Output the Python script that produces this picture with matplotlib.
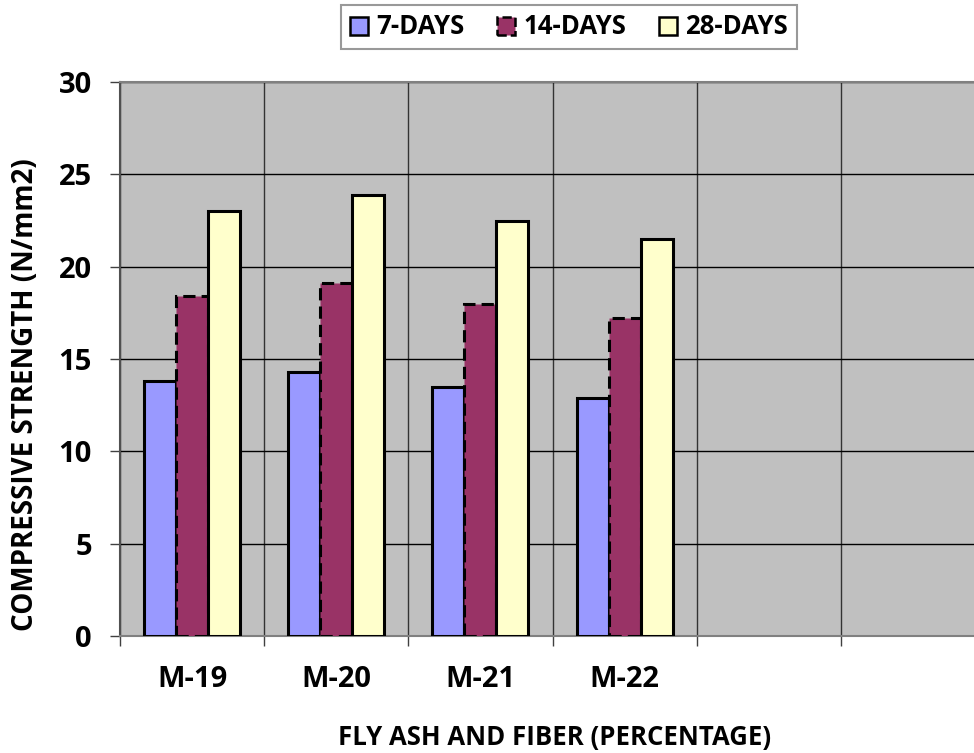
#!/usr/bin/env python3
"""Compressive strength bar chart (7/14/28 days) for mixes M-19..M-22."""

import matplotlib
matplotlib.use("Agg")
import matplotlib.pyplot as plt
import numpy as np
from matplotlib.patches import Patch

MIXES = ["M-19", "M-20", "M-21", "M-22"]
N_SLOTS = 6  # category axis has empty slots after the data
DAYS_7 = [13.8, 14.3, 13.5, 12.9]
DAYS_14 = [18.4, 19.1, 18.0, 17.2]
DAYS_28 = [23.0, 23.9, 22.5, 21.5]
SERIES_LABELS = ["7-DAYS", "14-DAYS", "28-DAYS"]
Y_TICKS = [0, 5, 10, 15, 20, 25, 30]

C_7 = "#9999FF"
C_14 = "#993366"
C_28 = "#FFFFCC"
C_BG = "#C0C0C0"

FONT = ["Open Sans", "DejaVu Sans"]


def main() -> None:
    plt.rcParams["font.family"] = FONT
    plt.rcParams["font.weight"] = "bold"
    plt.rcParams["axes.labelweight"] = "bold"

    fig = plt.figure(figsize=(9.74, 7.53), dpi=100)
    ax = fig.add_axes([120 / 974, 1 - 636 / 753, 865 / 974, (636 - 82) / 753])
    ax.set_facecolor(C_BG)

    x = np.arange(len(MIXES)) + 0.5
    w = 32 / 144.2
    ax.bar(x - w, DAYS_7, w, color=C_7, edgecolor="black", linewidth=2.2, zorder=3)
    ax.bar(x, DAYS_14, w, color=C_14, edgecolor="black", linewidth=2.2,
           linestyle=(0, (4, 2)), zorder=3)
    ax.bar(x + w, DAYS_28, w, color=C_28, edgecolor="black", linewidth=2.2, zorder=3)

    ax.set_xlim(0, N_SLOTS)
    ax.set_ylim(0, 30)

    # gridlines: horizontal at value ticks, vertical at category boundaries
    ax.set_yticks(Y_TICKS)
    ax.set_yticklabels([str(v) for v in Y_TICKS], fontweight="bold")
    ax.set_xticks(np.arange(N_SLOTS + 1))
    ax.set_xticklabels([])
    ax.set_xticks(x, minor=True)
    ax.set_xticklabels(MIXES, minor=True, fontweight="bold")
    ax.tick_params(axis="x", which="minor", length=0, pad=21, labelsize=21)
    ax.tick_params(axis="x", which="major", length=7.2, width=1, color="#404040",
                   direction="out")
    ax.tick_params(axis="y", length=7.2, width=1, color="#404040", direction="out",
                   labelsize=21, pad=13)
    ax.grid(True, which="major", axis="y", color="black", linewidth=1.0, zorder=1)
    ax.grid(True, which="major", axis="x", color="#333333", linewidth=1.0, zorder=1)
    ax.set_axisbelow(True)

    for name, sp in ax.spines.items():
        sp.set_color("#808080")
        sp.set_linewidth(1.5)
    ax.spines["left"].set_color("#505050")

    fig.text(26 / 974, 1 - 395 / 753, "COMPRESSIVE STRENGTH (N/mm2)", rotation=90,
             ha="center", va="center", fontsize=20, fontweight="bold")
    fig.text(555 / 974, 1 - 738 / 753, "FLY ASH AND FIBER (PERCENTAGE)",
             ha="center", va="center", fontsize=18.5, fontweight="bold")

    handles = [
        Patch(facecolor=C_7, edgecolor="black", linewidth=1.8, label=SERIES_LABELS[0]),
        Patch(facecolor=C_14, edgecolor="black", linewidth=1.8, linestyle="--",
              label=SERIES_LABELS[1]),
        Patch(facecolor=C_28, edgecolor="black", linewidth=1.8, label=SERIES_LABELS[2]),
    ]
    leg = fig.legend(handles=handles, loc="center", bbox_to_anchor=(569 / 974, 1 - 27 / 753),
                     ncol=3, prop={"size": 18.5, "weight": "bold"}, frameon=True,
                     fancybox=False, edgecolor="#808080", handlelength=0.7,
                     handleheight=0.7, handletextpad=0.3, columnspacing=1.3,
                     borderpad=0.35)
    leg.get_frame().set_linewidth(1.5)

    fig.savefig("out.png", dpi=100)
    plt.close(fig)


if __name__ == "__main__":
    main()
